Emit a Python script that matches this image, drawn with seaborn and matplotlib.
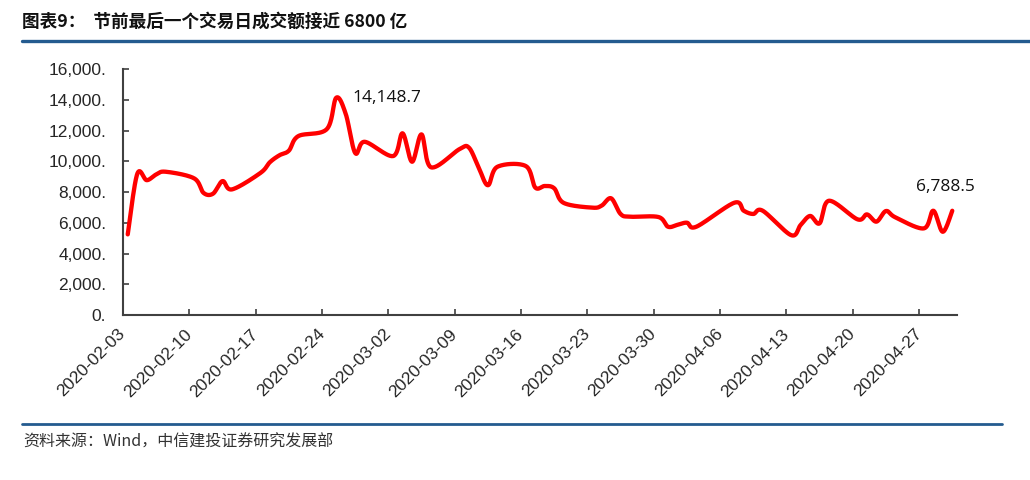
import numpy as np
import pandas as pd
import matplotlib
matplotlib.use("Agg")
import matplotlib.pyplot as plt
import matplotlib.dates as mdates
import seaborn as sns
from matplotlib.lines import Line2D
from matplotlib.ticker import FixedLocator, FuncFormatter

# 沪深两市日成交额（亿元），读自原图
trade_days = [
    '2020-02-03', '2020-02-04', '2020-02-05', '2020-02-06', '2020-02-07',
    '2020-02-10', '2020-02-11', '2020-02-12', '2020-02-13', '2020-02-14',
    '2020-02-17', '2020-02-18', '2020-02-19', '2020-02-20', '2020-02-21',
    '2020-02-24', '2020-02-25', '2020-02-26', '2020-02-27', '2020-02-28',
    '2020-03-02', '2020-03-03', '2020-03-04', '2020-03-05', '2020-03-06',
    '2020-03-09', '2020-03-10', '2020-03-11', '2020-03-12', '2020-03-13',
    '2020-03-16', '2020-03-17', '2020-03-18', '2020-03-19', '2020-03-20',
    '2020-03-23', '2020-03-24', '2020-03-25', '2020-03-26', '2020-03-27',
    '2020-03-30', '2020-03-31', '2020-04-01', '2020-04-02', '2020-04-03',
    '2020-04-07', '2020-04-08', '2020-04-09', '2020-04-10',
    '2020-04-13', '2020-04-14', '2020-04-15', '2020-04-16', '2020-04-17',
    '2020-04-20', '2020-04-21', '2020-04-22', '2020-04-23', '2020-04-24',
    '2020-04-27', '2020-04-28', '2020-04-29', '2020-04-30',
]
turnover = [
    5250, 9180, 8780, 9150, 9330,
    8900, 7950, 7900, 8720, 8180,
    9250, 9950, 10400, 10700, 11650,
    12100, 14148.7, 13100, 10550, 11280,
    10350, 11830, 9980, 11760, 9620,
    10800, 10900, 9650, 8450, 9650,
    9700, 8300, 8400, 8250, 7300,
    6990, 7120, 7600, 6580, 6400,
    6380, 5750, 5870, 6010, 5750,
    7310, 6790, 6580, 6790,
    5200, 5860, 6450, 5970, 7440,
    6230, 6550, 6080, 6770, 6360,
    5640, 6790, 5420, 6788.5,
]
week_ticks = [
    '2020-02-03', '2020-02-10', '2020-02-17', '2020-02-24', '2020-03-02',
    '2020-03-09', '2020-03-16', '2020-03-23', '2020-03-30', '2020-04-06',
    '2020-04-13', '2020-04-20', '2020-04-27',
]
y_ticks = [0, 2000, 4000, 6000, 8000, 10000, 12000, 14000, 16000]

title = '图表9：  节前最后一个交易日成交额接近 6800 亿'
source = '资料来源：Wind，中信建投证券研究发展部'

RED = '#FF0000'
BLUE = '#245b8f'
AXIS = '#404040'
CJK = ['Noto Sans CJK SC', 'DejaVu Sans']


def smooth_curve(x, y, steps=30):
    """Excel-style smoothed line: Catmull-Rom segments as cubic Bezier"""
    px = np.concatenate([[x[0]], x, [x[-1]]])
    py = np.concatenate([[y[0]], y, [y[-1]]])
    t = np.linspace(0, 1, steps, endpoint=False)[:, None]
    out = []
    for i in range(1, len(px) - 2):
        p0 = np.array([px[i], py[i]])
        p3 = np.array([px[i + 1], py[i + 1]])
        p1 = p0 + (p3 - np.array([px[i - 1], py[i - 1]])) / 6
        p2 = p3 - (np.array([px[i + 2], py[i + 2]]) - p0) / 6
        seg = ((1 - t) ** 3) * p0 + 3 * ((1 - t) ** 2) * t * p1 \
            + 3 * (1 - t) * t ** 2 * p2 + t ** 3 * p3
        out.append(seg)
    out.append(np.array([[x[-1], y[-1]]]))
    out = np.vstack(out)
    return out[:, 0], out[:, 1]


sns.set_style("ticks")
plt.rcParams['font.family'] = ['Liberation Sans', 'DejaVu Sans']

day_num = mdates.date2num(pd.to_datetime(trade_days))
vals = np.array(turnover, dtype=float)
sx, sy = smooth_curve(day_num, vals)
curve = pd.DataFrame({'day': sx, 'value': sy})

fig = plt.figure(figsize=(10.3, 4.8), dpi=100)
ax = fig.add_axes([123 / 1030, 1 - 315 / 480, 834 / 1030, 245.7 / 480])

sns.lineplot(data=curve, x='day', y='value', ax=ax, color=RED,
             linewidth=3.1, sort=False, estimator=None)

half = 0.5
ax.set_xlim(day_num[0] - half, day_num[-1] + half)
ax.set_ylim(0, 16000)
tick_pos = mdates.date2num(pd.to_datetime(week_ticks)) - half
ax.xaxis.set_major_locator(FixedLocator(tick_pos))
ax.set_xticklabels(week_ticks, rotation=45, ha='right', va='center',
                   rotation_mode='anchor', fontsize=12.5)
ax.yaxis.set_major_locator(FixedLocator(y_ticks))
ax.yaxis.set_major_formatter(FuncFormatter(lambda v, p: f'{v:,.0f}.'))
ax.tick_params(axis='y', labelsize=12.5, pad=12)
ax.tick_params(direction='in', length=4, width=1.2, color=AXIS)
ax.tick_params(axis='x', pad=12)
ax.set_xlabel('')
ax.set_ylabel('')
for side in ['top', 'right']:
    ax.spines[side].set_visible(False)
for side in ['left', 'bottom']:
    ax.spines[side].set_color(AXIS)
    ax.spines[side].set_linewidth(1.5)

# 数据标签：峰值与最后一日
peak = int(np.argmax(vals))
ax.annotate(f'{vals[peak]:,.1f}', xy=(day_num[peak], vals[peak]),
            xytext=(12, 0), textcoords='offset points', va='center', ha='left',
            fontsize=12.5, family=['Open Sans', 'DejaVu Sans'], color='#111111')
ax.annotate(f'{vals[-1]:,.1f}', xy=(day_num[-1], vals[-1]),
            xytext=(-5, 17), textcoords='offset points', va='center', ha='center',
            fontsize=12.5, family=['Open Sans', 'DejaVu Sans'], color='#111111')

# 标题、分隔线与来源
fig.text(22 / 1030, 1 - 22 / 480, title, va='center', ha='left',
         fontsize=12.7, weight='bold', family=CJK, color='#111111')
fig.add_artist(Line2D([22 / 1030, 1.0], [1 - 40.5 / 480] * 2,
                      color=BLUE, linewidth=2.4, transform=fig.transFigure))
fig.add_artist(Line2D([22 / 1030, 1002 / 1030], [1 - 423.5 / 480] * 2,
                      color=BLUE, linewidth=2.0, transform=fig.transFigure))
fig.text(23 / 1030, 1 - 442 / 480, source, va='center', ha='left',
         fontsize=11.5, family=CJK, color='#333333')

fig.savefig('out.png', dpi=100)
